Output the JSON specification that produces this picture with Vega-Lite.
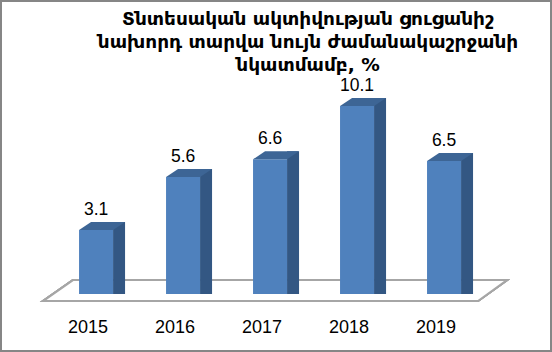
{
  "$schema": "https://vega.github.io/schema/vega-lite/v6.json",
  "width": 552,
  "height": 352,
  "padding": 0,
  "autosize": {"type": "none"},
  "background": "white",
  "config": {"view": {"stroke": "#868686", "strokeWidth": 4}},
  "title": {
    "text": ["Տնտեսական ակտիվության ցուցանիշ", "նախորդ տարվա նույն ժամանակաշրջանի", "նկատմամբ, %"],
    "orient": "top",
    "anchor": "middle",
    "offset": -74,
    "dx": 32,
    "font": "DejaVu Sans",
    "fontSize": 18.5,
    "fontWeight": "bold",
    "lineHeight": 23,
    "color": "#000000"
  },
  "data": {
    "values": [
      {"year": "2015", "value": 3.1},
      {"year": "2016", "value": 5.6},
      {"year": "2017", "value": 6.6},
      {"year": "2018", "value": 10.1},
      {"year": "2019", "value": 6.5}
    ]
  },
  "layer": [
    {
      "mark": {"type": "point", "shape": "M-233,0 L202,0 L231,-21 L-203,-21 Z", "size": 4, "filled": true, "fill": "white", "stroke": "#a6a6a6", "strokeWidth": 2, "opacity": 1},
      "encoding": {
        "y": {"datum": 0.901, "type": "quantitative", "scale": {"type": "sqrt", "domain": [0.135, 19.27], "nice": false, "zero": false}, "axis": null}
      }
    },
    {
      "mark": {"type": "bar", "color": "#335783", "width": 12, "xOffset": 23, "yOffset": -8},
      "encoding": {
        "x": {"field": "year", "type": "nominal", "scale": {"paddingInner": 0.609, "paddingOuter": 0.977, "align": 0.465}, "axis": null},
        "y": {"field": "value", "type": "quantitative"},
        "y2": {"datum": 1.061}
      }
    },
    {
      "mark": {"type": "bar", "color": "#4f81bd"},
      "encoding": {
        "x": {"field": "year", "type": "nominal"},
        "y": {"field": "value", "type": "quantitative"},
        "y2": {"datum": 1.061}
      }
    },
    {
      "mark": {"type": "point", "shape": "M-17,0 L17,0 L29,-8 L-5,-8 Z", "size": 4, "filled": true, "fill": "#3d6595", "strokeWidth": 0, "opacity": 1},
      "encoding": {
        "x": {"field": "year", "type": "nominal"},
        "y": {"field": "value", "type": "quantitative"}
      }
    },
    {
      "mark": {"type": "text", "font": "Liberation Sans", "fontSize": 17.5, "baseline": "alphabetic", "dy": -15, "color": "#000000"},
      "encoding": {
        "x": {"field": "year", "type": "nominal"},
        "y": {"field": "value", "type": "quantitative"},
        "text": {"field": "value", "type": "quantitative", "format": ".1f"}
      }
    },
    {
      "mark": {"type": "text", "font": "Liberation Sans", "fontSize": 18, "baseline": "alphabetic", "dx": -8, "color": "#000000"},
      "encoding": {
        "x": {"field": "year", "type": "nominal"},
        "y": {"datum": 0.341, "type": "quantitative"},
        "text": {"field": "year", "type": "nominal"}
      }
    }
  ]
}
